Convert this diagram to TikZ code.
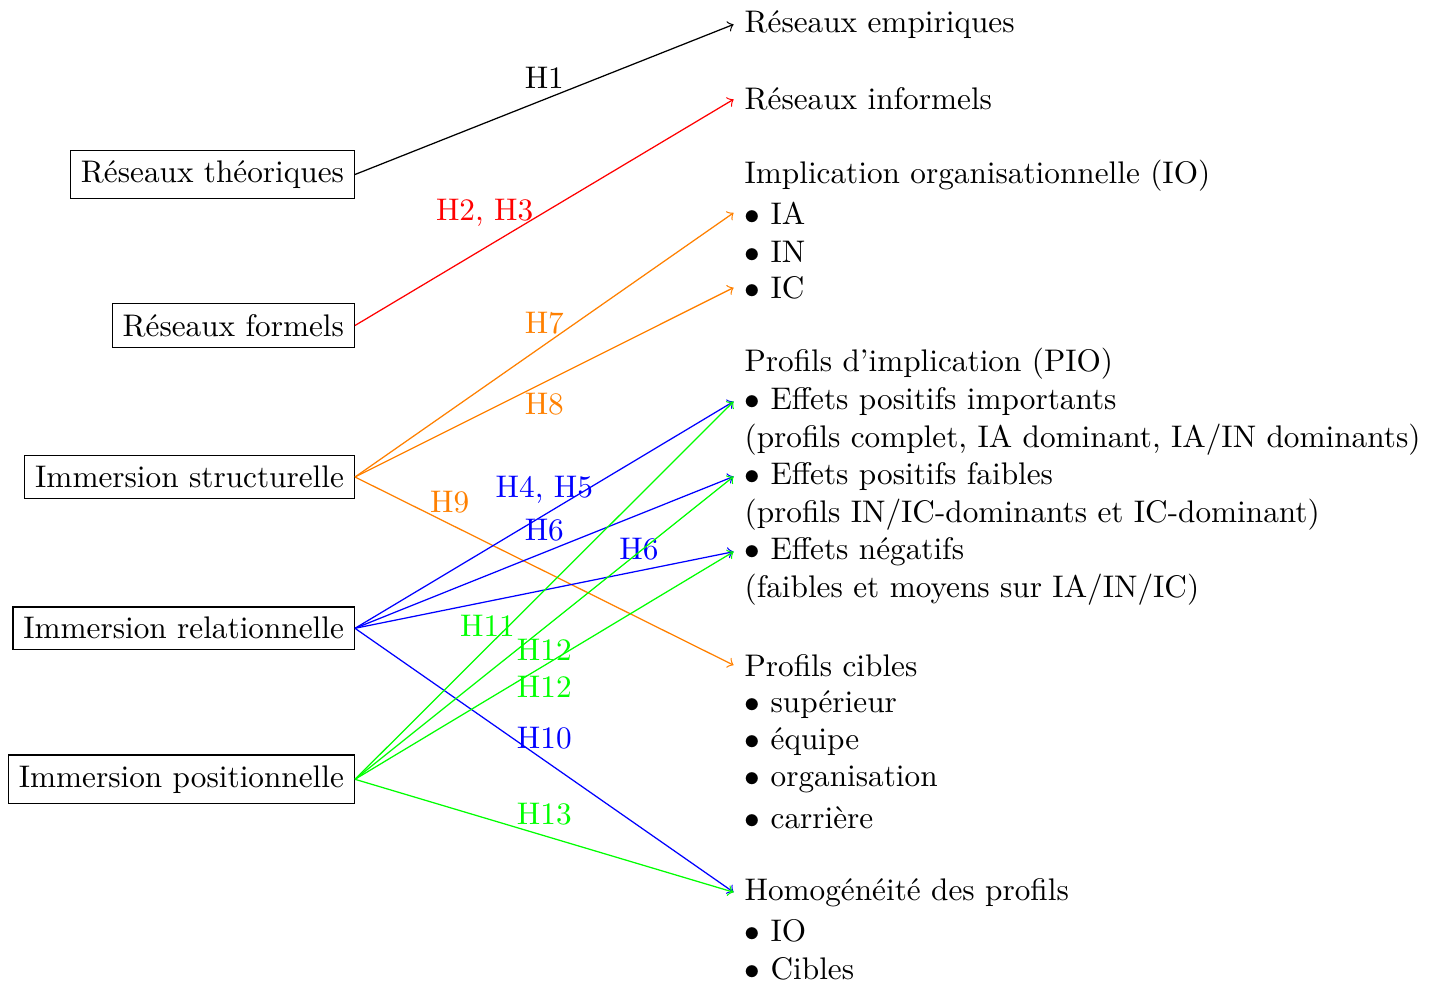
\documentclass[tikz,border=0pt]{standalone}
\begin{document}
\begin{tikzpicture}[x=0.32pt,y=-0.32pt,
  src/.style={draw,anchor=east},
  dst/.style={anchor=base west},
  hyp/.style={->}]
\useasboundingbox (0,0) rectangle (1430,984);
% sources
\node[src] (rt) at (355,174.5) {Réseaux théoriques};
\node[src] (rf) at (355,325.5) {Réseaux formels};
\node[src] (is) at (355,477) {Immersion structurelle};
\node[src] (ir) at (355,628.3) {Immersion relationnelle};
\node[src] (ip) at (355,779.3) {Immersion positionnelle};
% targets
\node[dst] (re) at (733.6,32.3) {Réseaux empiriques};
\node[dst] (ri) at (733.6,110) {Réseaux informels};
\node[dst] (io) at (733.6,183.3) {Implication organisationnelle (IO)};
\node[dst] (ia) at (733.6,224) {$\bullet$ IA};
\node[dst] (in) at (733.6,262) {$\bullet$ IN};
\node[dst] (ic) at (733.6,298.3) {$\bullet$ IC};
\node[dst] (pio) at (733.6,371.7) {Profils d’implication (PIO)};
\node[dst] (epi) at (733.6,409.5) {$\bullet$ Effets positifs importants};
\node[dst] (epid) at (733.6,447) {(profils complet, IA dominant, IA/IN dominants)};
\node[dst] (epf) at (733.6,484.5) {$\bullet$ Effets positifs faibles};
\node[dst] (epfd) at (733.6,522.2) {(profils IN/IC-dominants et IC-dominant)};
\node[dst] (en) at (733.6,559.5) {$\bullet$ Effets négatifs};
\node[dst] (end) at (733.6,597.5) {(faibles et moyens sur IA/IN/IC)};
\node[dst] (pc) at (733.6,676) {Profils cibles};
\node[dst] (sup) at (733.6,712.5) {$\bullet$ supérieur};
\node[dst] (eq) at (733.6,749.5) {$\bullet$ équipe};
\node[dst] (org) at (733.6,786.7) {$\bullet$ organisation};
\node[dst] (car) at (733.6,828) {$\bullet$ carrière};
\node[dst] (hp) at (733.6,900) {Homogénéité des profils};
\node[dst] (hio) at (733.6,941) {$\bullet$ IO};
\node[dst] (hci) at (733.6,979) {$\bullet$ Cibles};
% hypotheses
\draw[hyp] (rt.east) -- node[midway,above]{H1} (re.west);
\draw[hyp,red] (rf.east) -- node[midway,left]{H2, H3} (ri.west);
\draw[hyp,orange] (is.east) -- node[midway,above]{H7} (ia.west);
\draw[hyp,orange] (is.east) -- node[midway,below]{H8} (ic.west);
\draw[hyp,orange] (is.east) -- node[pos=0.25,above]{H9} (pc.west);
\draw[hyp,blue] (ir.east) -- node[midway,above]{H4, H5} (epi.west);
\draw[hyp,blue] (ir.east) -- node[midway,above]{H6} (epf.west);
\draw[hyp,blue] (ir.east) -- node[pos=0.75,above]{H6} (en.west);
\draw[hyp,blue] (ir.east) -- node[midway,above]{H10} (hp.west);
\draw[hyp,green] (ip.east) -- node[pos=0.35,above]{H11} (epi.west);
\draw[hyp,green] (ip.east) -- node[midway,below]{H12} (epf.west);
\draw[hyp,green] (ip.east) -- node[midway,below]{H12} (en.west);
\draw[hyp,green] (ip.east) -- node[midway,above]{H13} (hp.west);
\end{tikzpicture}
\end{document}
